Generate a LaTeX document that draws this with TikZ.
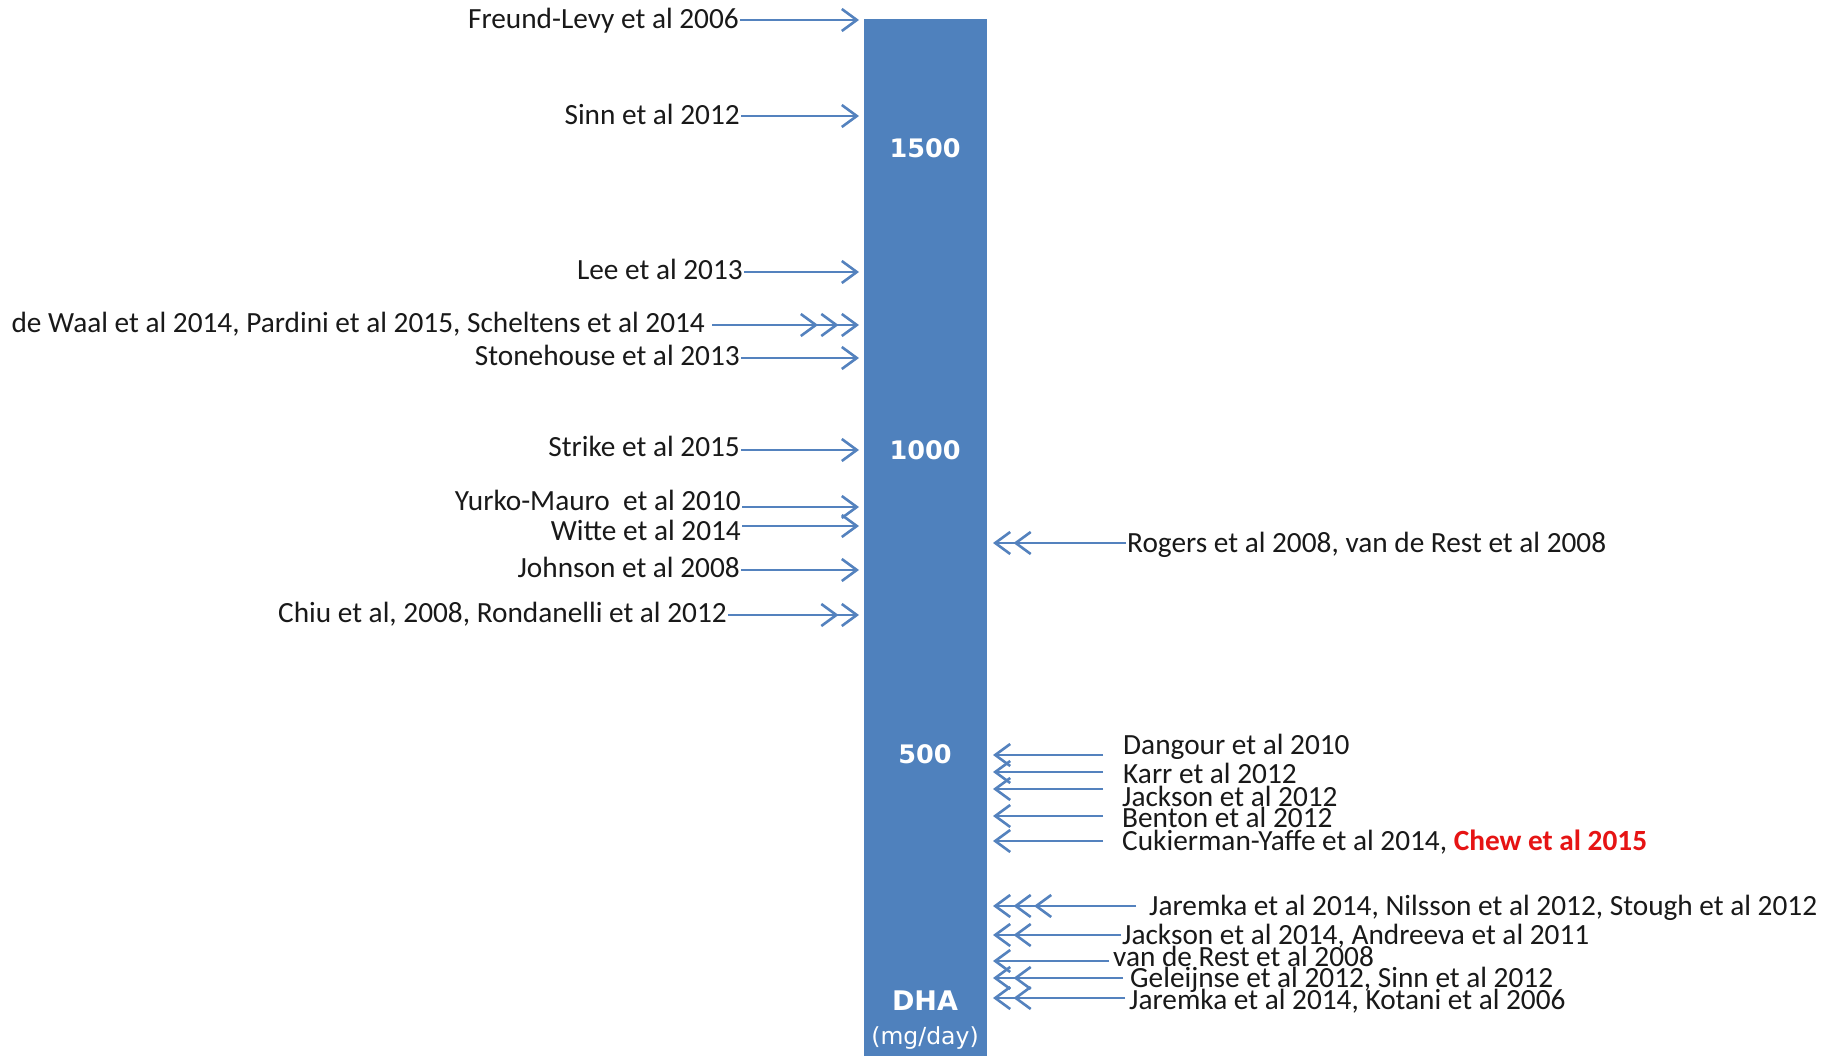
\documentclass[tikz,border=0pt]{standalone}
\usepackage{fontspec}
\setmainfont{Carlito}
\newfontfamily\barfont{DejaVu Sans}
\usetikzlibrary{arrows.meta}
\definecolor{barblue}{RGB}{79,129,189}
\definecolor{arrblue}{RGB}{84,130,190}
\definecolor{txtgray}{RGB}{25,25,25}
\definecolor{chewred}{RGB}{230,20,20}
\tikzset{
  lbl/.style={font=\fontsize{29.3}{31}\selectfont, text=txtgray, inner sep=1pt, text height=18pt, text depth=0pt},
  lbll/.style={lbl, anchor=east},
  lblr/.style={lbl, anchor=west},
  bartxt/.style={font=\barfont\bfseries\fontsize{25.5}{28}\selectfont, text=white, inner sep=0pt},
  tipa/.style={},
  onehead/.style={draw=arrblue, line width=2.4pt, -{Straight Barb[length=15pt,width=22pt,line width=2.6pt]}},
  twohead/.style={draw=arrblue, line width=2.4pt, -{Straight Barb[length=15pt,width=22pt,line width=2.6pt,sep=2pt]Straight Barb[length=15pt,width=22pt,line width=2.6pt]}},
  threehead/.style={draw=arrblue, line width=2.4pt, -{Straight Barb[length=15pt,width=22pt,line width=2.6pt,sep=2pt]Straight Barb[length=15pt,width=22pt,line width=2.6pt,sep=2pt]Straight Barb[length=15pt,width=22pt,line width=2.6pt]}},
}
\begin{document}
\begin{tikzpicture}[x=1pt,y=-1pt]
\useasboundingbox (0,0) rectangle (1831,1056);
\fill[white] (0,0) rectangle (1831,1056);
% bar
\node[fill=barblue, draw=none, minimum width=123pt, minimum height=1040pt, anchor=north west, inner sep=0pt] (bar) at (864,19) {};
\node[bartxt] (v1500) at (925,148) {1500};
\node[bartxt] (v1000) at (925,450) {1000};
\node[bartxt] (v500) at (925,754) {500};
\node[bartxt, font=\barfont\bfseries\fontsize{27}{30}\selectfont] (dha) at (925,1001) {DHA};
\node[bartxt, font=\barfont\fontsize{23.5}{26}\selectfont, text=white] (unit) at (925,1038) {(mg/day)};

% left side labels
\node[lbll] (A) at (740,20) {Freund-Levy et al 2006};
\node[lbll] (B) at (741,116) {Sinn et al 2012};
\node[lbll] (C) at (744,271) {Lee et al 2013};
\node[lbll] (D) at (706,324) {de Waal et al 2014, Pardini et al 2015, Scheltens et al 2014};
\node[lbll] (E) at (741,357) {Stonehouse et al 2013};
\node[lbll] (F) at (741,447) {Strike et al 2015};
\node[lbll] (G) at (742,501) {Yurko-Mauro\ \ et al 2010};
\node[lbll] (H) at (742,531) {Witte et al 2014};
\node[lbll] (I) at (741,568) {Johnson et al 2008};
\node[lbll] (J) at (728,613) {Chiu et al, 2008, Rondanelli et al 2012};

\coordinate (tA) at (859,20);
\coordinate (tB) at (859,116);
\coordinate (tC) at (859,272);
\coordinate (tD) at (859,325);
\coordinate (tE) at (859,358);
\coordinate (tF) at (859,450);
\coordinate (tG) at (859,507);
\coordinate (tH) at (859,526);
\coordinate (tI) at (859,570);
\coordinate (tJ) at (859,615);

\draw[onehead] (A.east |- tA) -- (tA);
\draw[onehead] (B.east |- tB) -- (tB);
\draw[onehead] (C.east |- tC) -- (tC);
\draw[threehead] ([xshift=6pt]D.east |- tD) -- (tD);
\draw[onehead] (E.east |- tE) -- (tE);
\draw[onehead] (F.east |- tF) -- (tF);
\draw[onehead] (G.east |- tG) -- (tG);
\draw[onehead] (H.east |- tH) -- (tH);
\draw[onehead] (I.east |- tI) -- (tI);
\draw[twohead] (J.east |- tJ) -- (tJ);

% right side labels
\node[lblr] (K) at (1126,543) {Rogers et al 2008, van de Rest et al 2008};
\node[lblr] (L) at (1122,745) {Dangour et al 2010};
\node[lblr] (M) at (1122,774) {Karr et al 2012};
\node[lblr] (N) at (1121,797) {Jackson et al 2012};
\node[lblr] (O) at (1121,818) {Benton et al 2012};
\node[lblr] (P) at (1121,841) {Cukierman-Yaffe et al 2014, \textcolor{chewred}{\bfseries Chew et al 2015}};
\node[lblr] (Q) at (1148,906) {Jaremka et al 2014, Nilsson et al 2012, Stough et al 2012};
\node[lblr] (R) at (1121,935) {Jackson et al 2014, Andreeva et al 2011};
\node[lblr] (S) at (1112,957) {van de Rest et al 2008};
\node[lblr] (T) at (1129,978) {Geleijnse et al 2012, Sinn et al 2012};
\node[lblr] (U) at (1128,1000) {Jaremka et al 2014, Kotani et al 2006};

\coordinate (sK) at (1126,543);   \coordinate (tK) at (993,543);
\coordinate (sL) at (1103,755);   \coordinate (tL) at (993,755);
\coordinate (sM) at (1103,772);   \coordinate (tM) at (993,772);
\coordinate (sN) at (1103,789);   \coordinate (tN) at (993,789);
\coordinate (sO) at (1103,816);   \coordinate (tO) at (993,816);
\coordinate (sP) at (1103,841);   \coordinate (tP) at (993,841);
\coordinate (sQ) at (1136,906);   \coordinate (tQ) at (993,906);
\coordinate (sR) at (1121,935);   \coordinate (tR) at (993,935);
\coordinate (sS) at (1109,961);   \coordinate (tS) at (993,961);
\coordinate (sT) at (1123,978);   \coordinate (tT) at (993,978);
\coordinate (sU) at (1125,998);   \coordinate (tU) at (993,998);

\draw[twohead] (sK) -- (tK);
\draw[onehead] (sL) -- (tL);
\draw[onehead] (sM) -- (tM);
\draw[onehead] (sN) -- (tN);
\draw[onehead] (sO) -- (tO);
\draw[onehead] (sP) -- (tP);
\draw[threehead] (sQ) -- (tQ);
\draw[twohead] (sR) -- (tR);
\draw[onehead] (sS) -- (tS);
\draw[twohead] (sT) -- (tT);
\draw[twohead] (sU) -- (tU);
\end{tikzpicture}
\end{document}
